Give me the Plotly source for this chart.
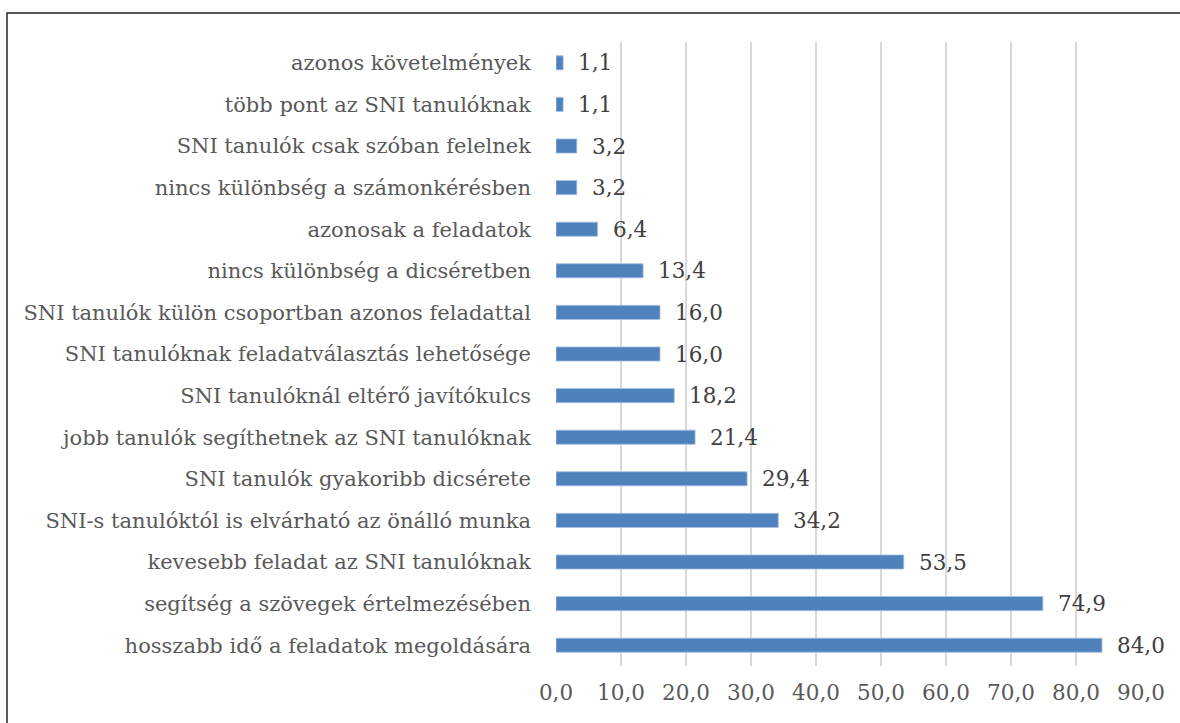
import plotly.graph_objects as go

categories = [
    "hosszabb idő a feladatok megoldására",
    "segítség a szövegek értelmezésében",
    "kevesebb feladat az SNI tanulóknak",
    "SNI-s tanulóktól is elvárható az önálló munka",
    "SNI tanulók gyakoribb dicsérete",
    "jobb tanulók segíthetnek az SNI tanulóknak",
    "SNI tanulóknál eltérő javítókulcs",
    "SNI tanulóknak feladatválasztás lehetősége",
    "SNI tanulók külön csoportban azonos feladattal",
    "nincs különbség a dicséretben",
    "azonosak a feladatok",
    "nincs különbség a számonkérésben",
    "SNI tanulók csak szóban felelnek",
    "több pont az SNI tanulóknak",
    "azonos követelmények",
]
values = [84.0, 74.9, 53.5, 34.2, 29.4, 21.4, 18.2, 16.0, 16.0, 13.4, 6.4, 3.2, 3.2, 1.1, 1.1]
tick_vals = [0, 10, 20, 30, 40, 50, 60, 70, 80, 90]

FONT = "DejaVu Serif"
FS_CAT = 21
FS_NUM = 21.5
W, H = 1180, 723
L, R, T, B = 556, 39, 42, 57
pw, ph = W - L - R, H - T - B

fig = go.Figure()
fig.add_trace(go.Bar(
    y=categories, x=values, orientation="h",
    marker=dict(color="#4F81BD", line=dict(color="#A9C1E0", width=0.8)),
    hoverinfo="skip",
))
for c, v in zip(categories, values):
    fig.add_annotation(x=v, y=c, text=f"{v:.1f}".replace(".", ","), showarrow=False,
                       xanchor="left", xshift=13, font=dict(family=FONT, size=FS_NUM, color="#404040"))

fig.add_shape(type="rect", xref="paper", yref="paper",
              x0=(7 - L) / pw, x1=(W + 10 - L) / pw,
              y0=-(H + 10 - (T + ph)) / ph, y1=1 + (T - 13) / ph,
              line=dict(color="#262626", width=1.5), fillcolor="rgba(0,0,0,0)", layer="below")

fig.update_layout(
    width=W, height=H,
    margin=dict(l=L, r=R, t=T, b=B, autoexpand=False),
    paper_bgcolor="white", plot_bgcolor="white",
    bargap=0.66, showlegend=False,
    separators=", ",
    font=dict(family=FONT),
    xaxis=dict(range=[0, 90], tickvals=tick_vals, tickformat=".1f",
               showgrid=True, gridcolor="#D9D9D9", gridwidth=1.5,
               zeroline=False, showline=False, ticks="", automargin=False,
               tickfont=dict(family=FONT, size=FS_NUM, color="#595959"),
               ticklabelstandoff=11, fixedrange=True),
    yaxis=dict(showgrid=False, zeroline=False, showline=False, ticks="", automargin=False,
               tickfont=dict(family=FONT, size=FS_CAT, color="#595959"),
               ticklabelstandoff=24, fixedrange=True,
               categoryorder="array", categoryarray=categories),
)
fig.write_html("out.html", config={"displayModeBar": False},
               post_script="document.body.style.margin='0';document.documentElement.style.overflow='hidden';")
